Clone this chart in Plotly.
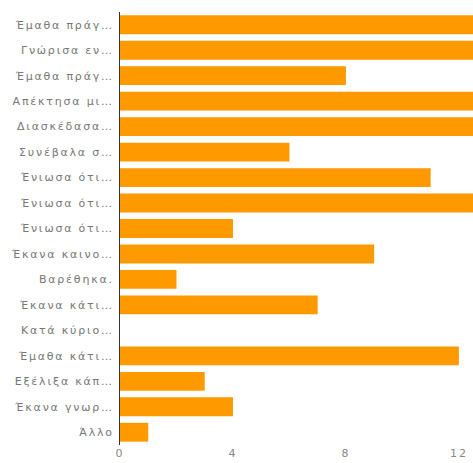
import plotly.graph_objects as go

labels = [
    "Έμαθα πράγ…", "Γνώρισα εν…", "Έμαθα πράγ…", "Απέκτησα μι…", "Διασκέδασα…",
    "Συνέβαλα σ…", "Ένιωσα ότι…", "Ένιωσα ότι…", "Ένιωσα ότι…", "Έκανα καινο…",
    "Βαρέθηκα.", "Έκανα κάτι…", "Κατά κύριο…", "Έμαθα κάτι…", "Εξέλιξα κάπ…",
    "Έκανα γνωρ…", "Άλλο",
]
values = [15, 14, 8, 16, 13, 6, 11, 13, 4, 9, 2, 7, 0, 12, 3, 4, 1]
x_ticks = [0, 4, 8, 12]

positions = list(range(len(labels)))
SP = '<span style="letter-spacing:1.8px">{}</span>'

fig = go.Figure(go.Bar(
    x=values,
    y=positions,
    orientation="h",
    marker=dict(color="#ff9900", line=dict(width=0)),
    width=0.74,
))

fig.update_layout(
    width=473, height=463,
    margin=dict(l=120, r=0, t=12, b=18, autoexpand=False),
    paper_bgcolor="white", plot_bgcolor="white",
    showlegend=False,
    font=dict(family="DejaVu Sans, Arial, sans-serif", size=11, color="#777777"),
)
fig.update_xaxes(
    range=[0, 12.5],
    tickvals=x_ticks,
    ticktext=[SP.format(v) for v in x_ticks],
    showgrid=False, zeroline=False, showline=False,
    ticks="", automargin=False,
    tickfont=dict(size=11, color="#888888"),
)
fig.update_yaxes(
    range=[len(labels) - 0.5, -0.5],
    tickvals=positions,
    ticktext=[SP.format(l) for l in labels],
    showgrid=False, zeroline=False,
    showline=True, linecolor="#333333", linewidth=1,
    ticks="", ticklabelstandoff=3, automargin=False,
    tickfont=dict(size=11, color="#777777"),
)

fig.write_html("out.html", config={"displayModeBar": False},
               post_script="document.body.style.margin='0';")
